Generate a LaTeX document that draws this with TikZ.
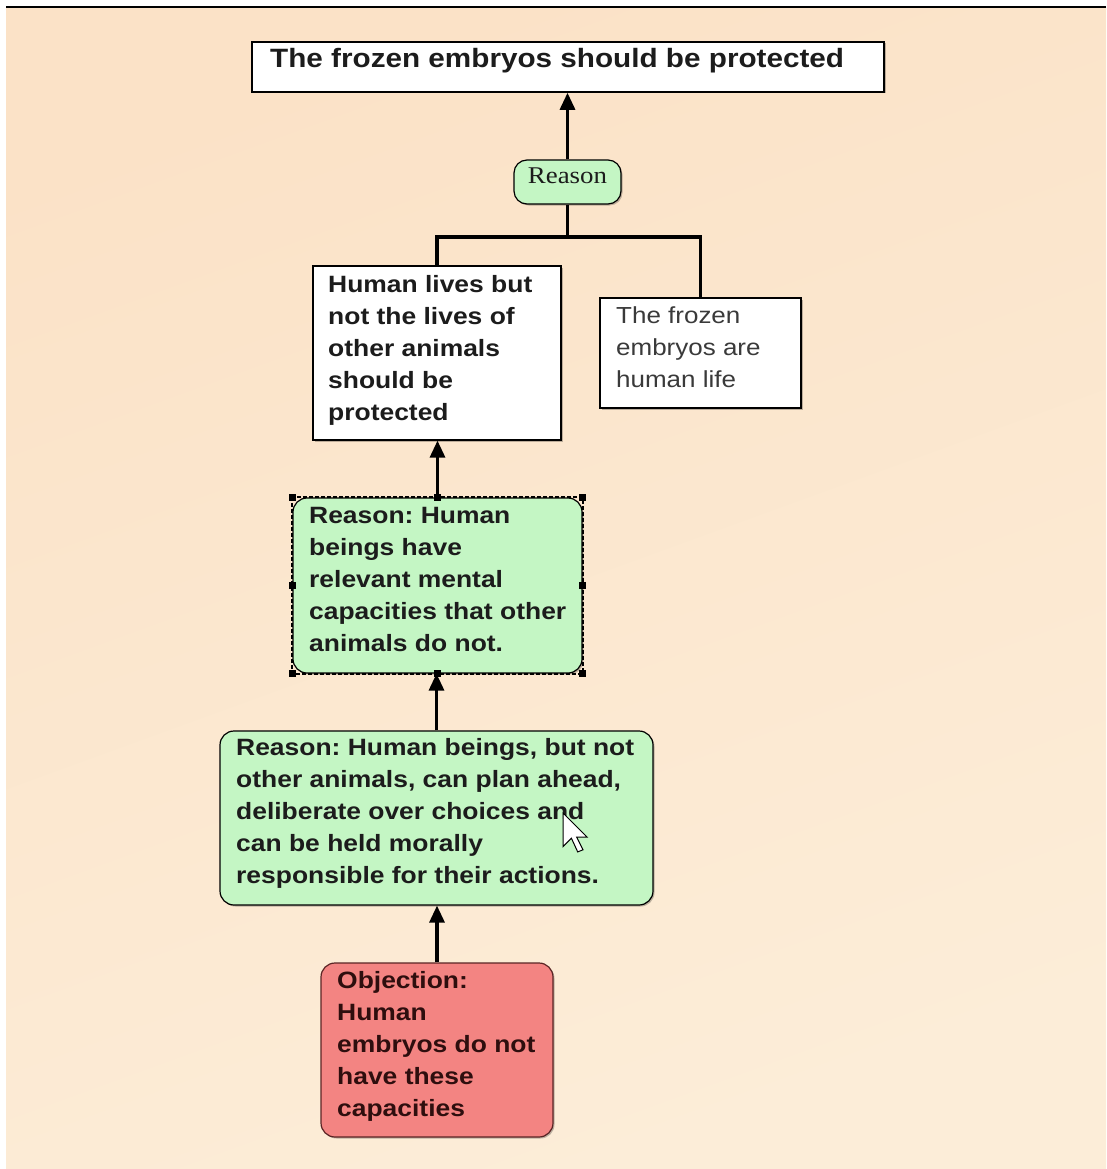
\documentclass[tikz,border=0pt]{standalone}
\usepackage{fontspec}
\setmainfont{Liberation Sans}[FakeStretch=1.12]
\newfontfamily\serifR{Liberation Serif}[FakeStretch=1.12]
\usetikzlibrary{arrows.meta,shadows,calc}
\definecolor{bgA}{HTML}{FBE2C7}
\definecolor{bgB}{HTML}{FCEDD8}
\definecolor{boxgreen}{HTML}{C4F6C4}
\definecolor{boxred}{HTML}{F38482}
\definecolor{redline}{HTML}{5A2424}
\definecolor{txtdark}{HTML}{1C1C1C}
\definecolor{txtgray}{HTML}{3A3A3A}
\definecolor{txtred}{HTML}{2E0E0E}
\tikzset{
  box/.style={draw=black, line width=1.2pt, fill=white, inner sep=0pt,
    drop shadow={shadow xshift=1.5pt, shadow yshift=-1.5pt, fill=black, opacity=0.25}},
  gbox/.style={box, fill=boxgreen, rounded corners=14pt},
  rbox/.style={box, fill=boxred, draw=redline, rounded corners=14pt},
  link/.style={line width=3.2pt, draw=black},
  arr/.style={link, -{Triangle[width=15pt,length=17pt]}},
  txt/.style={inner sep=0pt, anchor=base west, text=txtdark,
    font=\bfseries\fontsize{23.6}{32}\selectfont},
  handle/.style={fill=black}
}
\frenchspacing
\newcommand{\lines}[1]{\parbox[t]{420pt}{\raggedright\frenchspacing #1}}
\begin{document}
\begin{tikzpicture}[x=1pt,y=-1pt]
\useasboundingbox (0,0) rectangle (1106,1169);
\fill[white] (0,0) rectangle (1106,1169);
\shade[top color=bgA, bottom color=bgB, shading angle=20] (6,8) rectangle (1106,1169);
\fill[black] (6,6.5) rectangle (1106,8.5);

% boxes
\node[box, line width=1.6pt, minimum width=632pt, minimum height=50pt] (top) at (568,67) {};
\node[gbox, rounded corners=13pt, minimum width=107pt, minimum height=44pt,
      font=\serifR\fontsize{24}{28}\selectfont, text=txtdark,
      text height=16pt, text depth=12pt] (reason) at (567.5,182) {Reason};
\node[box, minimum width=248pt, minimum height=174pt] (lives) at (437,353) {};
\node[box, minimum width=201pt, minimum height=110pt] (emb) at (700.5,353) {};
\node[gbox, minimum width=289pt, minimum height=175pt] (mental) at (437.5,585.5) {};
\node[gbox, minimum width=433pt, minimum height=174pt] (plan) at (436.5,818) {};
\node[rbox, minimum width=232pt, minimum height=174pt] (obj) at (437,1050) {};

% selection frame around the selected box
\draw[line width=2pt, dash pattern=on 4pt off 2pt] (mental.north west) rectangle (mental.south east);
\foreach \a in {north west,north,north east,west,east,south west,south,south east}
  \fill[handle] ($(mental.\a)+(-3.5,-3.5)$) rectangle ++(7,7);

% texts
\node[txt, font=\bfseries\fontsize{26.5}{32}\selectfont] (topT) at (270,68) {The frozen embryos should be protected};
\node[txt] (livesT) at (328,292) {\lines{Human lives but\\not the lives of\\other animals\\should be\\protected}};
\node[txt, text=txtgray, font=\fontsize{23.2}{32}\selectfont] (embT) at (616,323) {\lines{The frozen\\embryos are\\human life}};
\node[txt] (mentalT) at (309,523) {\lines{Reason: Human\\beings have\\relevant mental\\capacities that other\\animals do not.}};
\node[txt] (planT) at (236,755) {\lines{Reason: Human beings, but not\\other animals, can plan ahead,\\deliberate over choices and\\can be held morally\\responsible for their actions.}};
\node[txt, text=txtred] (objT) at (337,988) {\lines{Objection:\\Human\\embryos do not\\have these\\capacities}};

% connectors
\coordinate (j) at (567.5,237);
\draw[arr] (reason.north) -- (reason.north |- top.south);
\draw[link] (reason.south) -- (j);
\draw[link, line join=miter] (lives.north) |- (j) -| (emb.north);
\draw[arr] (mental.north) -- (mental.north |- lives.south);
\draw[arr] (plan.north) -- (plan.north |- mental.south);
\draw[arr] (obj.north) -- (obj.north |- plan.south);

% mouse pointer
\draw[fill=white, line width=1pt, line join=miter]
  (563,813) -- (563,846.6) -- (571.4,838.2) -- (577.7,851.9) -- (583,849.8)
  -- (576.7,837.2) -- (587.2,837.2) -- cycle;
\end{tikzpicture}
\end{document}
